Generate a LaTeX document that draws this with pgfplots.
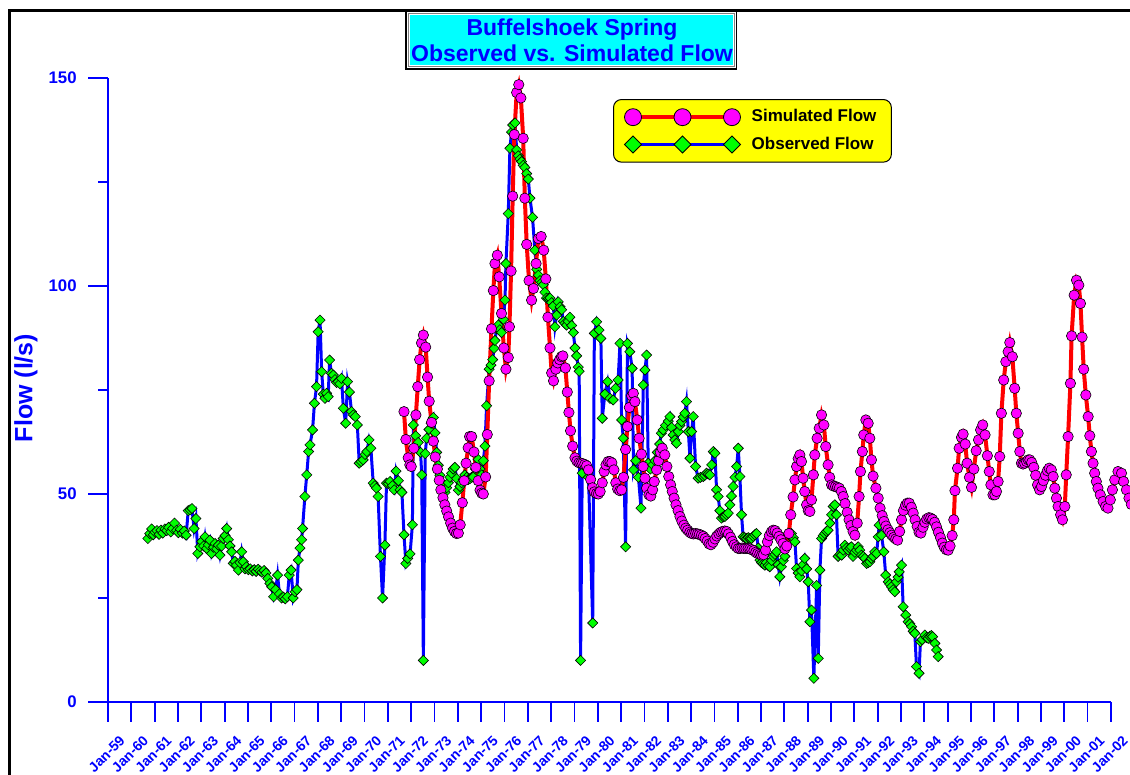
\documentclass[border=0pt]{standalone}
\usepackage{fontspec}
\setmainfont{Liberation Sans}
\usepackage{pgfplots}
\pgfplotsset{compat=1.18}
\usepackage{pgfplotstable}
\definecolor{cMag}{RGB}{255,0,255}
\definecolor{cCyan}{RGB}{0,255,255}
\definecolor{cYel}{RGB}{255,255,0}
\definecolor{cGrn}{RGB}{0,255,0}
\definecolor{cBlue}{RGB}{0,0,255}
\definecolor{cRed}{RGB}{255,0,0}

\pgfplotstableread{
x y
1960.71 39.3
1960.79 40.5
1960.87 41.6
1960.94 40.2
1961.02 40.8
1961.10 41.2
1961.19 40.3
1961.27 41.3
1961.35 40.6
1961.44 41.6
1961.52 41.2
1961.60 42.0
1961.69 40.9
1961.77 41.7
1961.85 43.0
1961.94 41.3
1962.02 40.7
1962.10 41.5
1962.19 40.6
1962.27 41.1
1962.35 40.1
1962.44 46.0
1962.52 46.2
1962.60 46.5
1962.69 41.7
1962.77 44.1
1962.85 35.7
1962.94 37.3
1963.02 38.6
1963.10 37.5
1963.16 39.7
1963.23 36.9
1963.30 37.8
1963.37 38.9
1963.44 35.7
1963.52 37.2
1963.59 38.1
1963.66 36.8
1963.73 37.7
1963.80 35.3
1963.87 37.5
1963.94 39.3
1964.02 40.0
1964.09 41.7
1964.16 39.0
1964.23 37.5
1964.30 36.1
1964.37 33.3
1964.44 33.8
1964.51 32.9
1964.59 31.7
1964.66 33.5
1964.73 36.1
1964.80 33.7
1964.87 32.0
1964.94 32.5
1965.02 31.8
1965.10 32.0
1965.19 31.5
1965.27 31.8
1965.35 31.4
1965.44 31.9
1965.52 31.5
1965.60 31.2
1965.69 31.6
1965.77 31.0
1965.85 29.7
1965.94 28.5
1966.02 27.7
1966.10 25.3
1966.19 27.0
1966.27 30.5
1966.35 26.0
1966.44 25.0
1966.52 25.2
1966.60 24.8
1966.69 25.3
1966.77 30.5
1966.85 31.7
1966.94 25.0
1967.02 26.5
1967.10 27.0
1967.16 34.1
1967.23 37.0
1967.30 39.0
1967.34 41.7
1967.44 49.4
1967.52 54.6
1967.60 60.2
1967.66 61.8
1967.77 65.4
1967.85 71.8
1967.94 75.8
1968.01 89.0
1968.09 91.8
1968.16 79.4
1968.23 74.0
1968.30 73.0
1968.37 74.2
1968.44 73.4
1968.50 82.2
1968.58 79.0
1968.66 78.6
1968.73 77.5
1968.80 76.8
1968.87 77.0
1968.94 76.5
1969.01 77.8
1969.09 70.6
1969.19 67.0
1969.27 77.0
1969.35 74.5
1969.44 69.8
1969.52 69.0
1969.60 68.6
1969.69 66.6
1969.77 57.4
1969.85 57.8
1969.94 58.2
1970.02 59.5
1970.10 60.2
1970.19 63.0
1970.27 61.0
1970.37 52.6
1970.44 52.0
1970.51 51.4
1970.58 49.4
1970.68 35.0
1970.77 25.0
1970.87 37.7
1970.94 52.6
1971.02 52.5
1971.09 53.0
1971.19 52.0
1971.27 51.0
1971.35 55.5
1971.45 53.2
1971.52 51.0
1971.60 50.4
1971.69 40.2
1971.77 33.3
1971.85 34.5
1971.95 35.6
1972.05 42.6
1972.09 66.6
1972.19 64.0
1972.30 62.4
1972.40 60.0
1972.45 54.6
1972.52 10.0
1972.60 59.7
1972.66 63.4
1972.76 65.5
1972.85 67.0
1972.95 68.4
1973.02 64.7
1973.09 60.0
1973.16 56.9
1973.23 54.5
1973.30 52.7
1973.38 51.5
1973.45 50.4
1973.52 51.5
1973.59 52.7
1973.66 54.0
1973.73 55.0
1973.80 56.0
1973.87 56.4
1973.95 53.7
1974.02 50.9
1974.09 51.8
1974.16 52.7
1974.23 53.5
1974.30 54.6
1974.38 54.0
1974.45 53.5
1974.52 53.7
1974.59 54.0
1974.66 54.1
1974.75 56.0
1974.87 58.3
1974.95 56.0
1975.02 54.6
1975.09 58.0
1975.16 61.5
1975.23 71.2
1975.34 80.0
1975.42 81.0
1975.49 82.3
1975.55 85.0
1975.59 86.9
1975.66 89.7
1975.73 90.6
1975.80 89.5
1975.87 88.8
1975.95 92.0
1976.02 96.6
1976.06 105.4
1976.16 117.4
1976.23 133.1
1976.30 137.0
1976.35 138.7
1976.45 139.2
1976.52 132.7
1976.59 131.3
1976.66 130.5
1976.73 129.9
1976.80 129.0
1976.87 128.5
1976.95 127.0
1977.02 125.7
1977.09 121.1
1977.20 116.5
1977.30 108.6
1977.38 104.0
1977.45 102.6
1977.52 101.3
1977.59 100.8
1977.66 100.3
1977.73 98.5
1977.80 97.1
1977.88 97.0
1977.95 97.1
1978.02 96.0
1978.09 95.2
1978.16 90.2
1978.23 93.0
1978.30 96.2
1978.38 95.0
1978.45 94.3
1978.52 91.5
1978.59 91.0
1978.66 90.6
1978.73 91.5
1978.80 92.5
1978.88 90.5
1978.95 88.8
1979.02 85.1
1979.09 83.2
1979.16 80.5
1979.20 79.5
1979.26 10.0
1979.33 55.0
1979.45 56.5
1979.60 54.0
1979.78 19.0
1979.85 88.6
1979.95 91.4
1980.05 89.4
1980.13 87.4
1980.19 68.2
1980.30 74.0
1980.42 77.0
1980.52 73.0
1980.66 72.6
1980.76 75.4
1980.87 77.4
1980.95 86.2
1981.02 67.8
1981.09 63.4
1981.19 37.3
1981.27 86.2
1981.37 84.2
1981.47 80.2
1981.53 55.8
1981.62 58.0
1981.74 54.0
1981.85 46.6
1981.95 76.2
1982.02 79.8
1982.09 83.4
1982.16 57.4
1982.25 56.0
1982.35 57.0
1982.45 58.0
1982.55 60.0
1982.65 62.0
1982.72 64.6
1982.80 65.4
1982.90 66.5
1983.02 67.5
1983.09 68.6
1983.16 66.0
1983.23 64.2
1983.30 63.0
1983.37 62.2
1983.45 65.0
1983.52 66.5
1983.59 67.4
1983.66 68.5
1983.73 69.4
1983.80 72.2
1983.88 65.0
1983.95 58.6
1984.02 65.0
1984.09 68.6
1984.19 56.6
1984.30 53.8
1984.40 54.0
1984.52 54.2
1984.59 54.5
1984.66 55.0
1984.73 54.8
1984.80 54.6
1984.88 57.0
1984.95 60.2
1985.02 59.8
1985.09 51.0
1985.16 49.4
1985.23 46.0
1985.30 44.2
1985.38 44.5
1985.45 44.6
1985.52 45.0
1985.59 45.4
1985.66 47.4
1985.73 49.5
1985.80 51.8
1985.88 54.0
1985.95 56.6
1986.02 61.0
1986.09 54.2
1986.16 45.0
1986.23 39.7
1986.30 39.5
1986.38 39.3
1986.45 39.5
1986.52 39.3
1986.59 39.3
1986.66 39.8
1986.73 40.2
1986.80 40.5
1986.88 37.0
1986.95 34.1
1987.02 33.5
1987.09 33.2
1987.16 32.9
1987.23 33.5
1987.30 32.8
1987.37 32.5
1987.45 34.0
1987.52 35.0
1987.59 35.5
1987.66 36.1
1987.73 33.0
1987.80 30.1
1987.87 32.5
1987.95 34.0
1988.02 35.0
1988.09 37.5
1988.16 40.5
1988.23 40.0
1988.30 40.5
1988.38 39.5
1988.45 38.5
1988.52 32.1
1988.59 31.0
1988.66 30.1
1988.73 31.5
1988.80 33.0
1988.87 34.5
1988.95 32.0
1989.02 28.9
1989.09 19.3
1989.16 22.1
1989.26 5.7
1989.38 28.0
1989.45 10.5
1989.52 31.7
1989.59 39.3
1989.66 40.0
1989.73 40.5
1989.80 41.0
1989.87 41.3
1989.95 43.0
1990.02 45.0
1990.09 47.0
1990.16 47.4
1990.23 45.0
1990.30 35.0
1990.38 35.5
1990.45 35.3
1990.52 36.5
1990.59 37.7
1990.66 37.0
1990.73 36.5
1990.80 37.0
1990.87 37.3
1990.94 35.0
1991.02 36.0
1991.09 36.5
1991.16 37.3
1991.23 36.5
1991.30 35.3
1991.38 35.0
1991.45 34.5
1991.52 33.3
1991.59 33.5
1991.66 33.7
1991.73 34.5
1991.80 35.0
1991.87 36.1
1991.95 35.7
1992.02 39.7
1992.06 42.5
1992.16 40.1
1992.26 36.1
1992.34 30.5
1992.45 28.9
1992.52 28.3
1992.59 27.7
1992.66 27.0
1992.73 26.5
1992.80 28.9
1992.87 30.0
1992.92 31.3
1993.02 32.9
1993.09 22.9
1993.20 20.9
1993.30 19.3
1993.38 18.8
1993.45 18.1
1993.52 17.0
1993.59 16.5
1993.66 8.5
1993.77 6.9
1993.83 14.5
1993.90 15.0
1994.02 16.1
1994.09 15.5
1994.16 15.3
1994.23 15.8
1994.30 16.0
1994.35 15.7
1994.45 14.1
1994.52 12.5
1994.59 10.9
}\obs

\pgfplotstableread{
x y
1971.69 69.8
1971.77 63.1
1971.87 58.7
1971.94 57.0
1972.00 56.6
1972.11 61.0
1972.20 69.0
1972.28 75.8
1972.36 82.3
1972.44 86.3
1972.52 88.2
1972.62 85.3
1972.70 78.1
1972.77 72.3
1972.87 67.2
1972.95 62.7
1973.03 58.9
1973.12 56.0
1973.20 53.3
1973.27 51.0
1973.36 49.1
1973.44 47.4
1973.52 45.9
1973.60 44.5
1973.69 43.0
1973.77 41.8
1973.85 41.0
1973.94 40.5
1974.02 40.6
1974.10 42.6
1974.19 47.9
1974.27 53.2
1974.35 57.4
1974.44 61.1
1974.50 63.8
1974.59 63.8
1974.69 60.1
1974.77 56.4
1974.87 53.2
1974.95 50.9
1975.02 50.2
1975.09 50.0
1975.19 54.1
1975.26 64.3
1975.34 77.2
1975.44 89.7
1975.52 98.9
1975.59 105.4
1975.69 107.4
1975.77 102.2
1975.87 93.4
1975.97 85.1
1976.06 80.0
1976.16 82.8
1976.21 90.2
1976.28 103.6
1976.35 121.6
1976.42 136.4
1976.52 146.5
1976.61 148.4
1976.70 145.2
1976.80 135.5
1976.87 121.1
1976.95 110.0
1977.05 101.3
1977.16 96.6
1977.24 99.4
1977.35 105.4
1977.45 111.4
1977.57 111.9
1977.68 108.6
1977.77 101.7
1977.86 92.5
1977.95 85.1
1978.02 79.1
1978.10 77.2
1978.20 80.0
1978.28 81.5
1978.36 82.3
1978.44 83.0
1978.50 83.2
1978.61 80.3
1978.69 74.5
1978.76 69.6
1978.83 65.2
1978.92 61.5
1979.02 58.7
1979.10 57.9
1979.19 57.5
1979.27 57.4
1979.35 57.3
1979.44 57.1
1979.52 56.8
1979.60 55.8
1979.69 53.5
1979.77 51.5
1979.85 50.5
1979.94 50.1
1980.02 50.0
1980.10 50.6
1980.19 52.7
1980.27 55.4
1980.35 57.0
1980.44 57.8
1980.52 57.8
1980.60 57.5
1980.69 55.8
1980.77 52.7
1980.85 51.2
1980.94 50.8
1981.02 51.0
1981.10 54.0
1981.19 60.7
1981.27 66.2
1981.35 70.8
1981.45 73.6
1981.52 74.2
1981.59 72.2
1981.69 67.8
1981.77 63.4
1981.87 59.6
1981.94 56.6
1982.02 53.8
1982.09 51.4
1982.19 49.8
1982.27 49.5
1982.35 51.0
1982.42 53.0
1982.52 55.8
1982.60 58.0
1982.68 60.0
1982.76 61.0
1982.87 59.4
1982.96 56.6
1983.04 54.2
1983.12 52.2
1983.19 50.6
1983.27 49.0
1983.35 47.4
1983.44 46.0
1983.52 44.6
1983.60 43.5
1983.69 42.5
1983.77 41.8
1983.85 41.3
1983.94 40.8
1984.02 40.5
1984.10 40.4
1984.19 40.5
1984.27 40.4
1984.35 40.3
1984.44 40.1
1984.52 39.8
1984.60 39.3
1984.69 38.7
1984.77 38.0
1984.85 37.8
1984.94 38.4
1985.02 39.2
1985.10 39.9
1985.19 40.4
1985.27 40.8
1985.35 41.0
1985.44 41.1
1985.52 41.0
1985.60 40.4
1985.69 39.6
1985.77 38.6
1985.85 37.8
1985.94 37.3
1986.02 36.9
1986.10 36.9
1986.19 37.0
1986.27 36.9
1986.35 36.9
1986.44 36.9
1986.52 36.8
1986.60 36.6
1986.69 36.4
1986.77 36.0
1986.85 35.7
1986.94 35.5
1987.02 35.3
1987.10 35.4
1987.19 36.5
1987.27 38.5
1987.35 40.0
1987.44 40.9
1987.52 41.3
1987.60 41.2
1987.69 40.6
1987.77 39.8
1987.85 39.0
1987.94 38.1
1988.02 36.8
1988.10 37.5
1988.19 40.5
1988.27 45.0
1988.37 49.3
1988.45 53.4
1988.52 56.6
1988.59 58.5
1988.66 59.4
1988.73 57.8
1988.80 53.8
1988.87 50.6
1988.95 47.4
1989.02 46.0
1989.09 45.8
1989.16 48.6
1989.24 54.6
1989.30 59.4
1989.40 63.4
1989.49 65.8
1989.59 69.0
1989.69 66.6
1989.77 61.4
1989.87 57.0
1989.94 54.0
1990.02 52.2
1990.10 51.9
1990.19 51.8
1990.27 51.6
1990.35 51.4
1990.44 50.6
1990.52 49.4
1990.60 47.7
1990.69 45.6
1990.77 43.8
1990.85 42.4
1990.94 41.0
1991.02 40.1
1991.12 43.0
1991.20 49.4
1991.26 55.4
1991.34 60.2
1991.40 64.2
1991.49 67.8
1991.59 67.0
1991.66 63.4
1991.73 58.2
1991.80 54.3
1991.92 51.4
1992.02 49.0
1992.10 46.6
1992.19 44.8
1992.27 43.4
1992.35 42.3
1992.44 41.4
1992.52 40.7
1992.60 40.1
1992.69 39.6
1992.77 39.2
1992.85 38.9
1992.94 41.0
1993.02 43.8
1993.10 46.0
1993.19 47.3
1993.27 47.8
1993.35 47.8
1993.44 46.8
1993.52 45.4
1993.60 43.8
1993.69 42.2
1993.77 40.8
1993.85 40.6
1993.94 42.0
1994.02 43.2
1994.10 44.0
1994.19 44.3
1994.27 44.2
1994.35 43.9
1994.44 43.2
1994.52 42.1
1994.60 40.8
1994.69 39.5
1994.77 38.2
1994.85 37.2
1994.94 36.6
1995.02 36.5
1995.10 37.5
1995.19 40.0
1995.26 43.8
1995.31 50.8
1995.42 56.2
1995.49 61.0
1995.59 63.6
1995.66 64.4
1995.75 62.0
1995.83 57.4
1995.93 54.0
1996.02 51.6
1996.12 56.0
1996.22 60.4
1996.32 63.0
1996.41 65.4
1996.50 66.6
1996.60 64.2
1996.70 59.2
1996.78 55.4
1996.85 52.2
1996.94 49.8
1997.02 49.8
1997.09 50.6
1997.16 53.0
1997.23 59.0
1997.30 69.4
1997.40 77.4
1997.49 81.8
1997.59 84.2
1997.66 86.4
1997.77 83.0
1997.87 75.4
1997.94 69.4
1998.02 64.6
1998.09 60.2
1998.16 57.4
1998.23 57.2
1998.30 57.4
1998.38 57.8
1998.45 58.2
1998.52 58.2
1998.60 57.6
1998.69 56.4
1998.77 54.5
1998.85 52.2
1998.94 51.0
1999.02 51.8
1999.10 53.2
1999.19 54.5
1999.27 55.6
1999.35 56.2
1999.44 55.8
1999.52 54.2
1999.59 51.4
1999.66 49.0
1999.73 47.0
1999.84 45.0
1999.92 43.8
2000.02 47.0
2000.08 54.6
2000.16 63.8
2000.26 76.6
2000.31 88.0
2000.42 97.8
2000.52 101.4
2000.62 100.2
2000.69 95.8
2000.76 87.7
2000.83 80.0
2000.92 73.8
2001.02 68.6
2001.09 64.0
2001.16 60.2
2001.23 57.4
2001.30 55.0
2001.37 53.0
2001.44 51.4
2001.54 49.8
2001.66 48.2
2001.77 47.0
2001.87 46.6
2001.97 48.6
2002.06 51.0
2002.16 53.4
2002.30 55.4
2002.45 55.0
2002.54 53.0
2002.66 51.0
2002.77 49.0
2002.87 47.5
}\sim

\tikzset{
  xlab/.style={xshift=7.3pt, yshift=-18pt, rotate=45, anchor=east, inner sep=0pt,
    font=\fontsize{7}{8}\selectfont\bfseries, text=cBlue},
  ylab/.style={xshift=-15.5pt, anchor=east, inner sep=0pt,
    font=\fontsize{8.4}{10}\selectfont\bfseries, text=cBlue},
}

\begin{document}
\begin{tikzpicture}
\path[use as bounding box] (0pt,0pt) rectangle (565pt,387.5pt);
% title box
\draw[black, line width=0.6pt, fill=white] (203pt,353pt) rectangle (368.25pt,382.25pt);
\draw[gray, line width=0.4pt] (204.3pt,354.3pt) rectangle (367pt,381pt);
\fill[cCyan] (205pt,355pt) rectangle (366.5pt,380pt);
\node[anchor=base, font=\fontsize{11.5}{13}\selectfont\bfseries, text=cBlue] at (286pt,369.6pt) {Buffelshoek Spring};
\node[anchor=base, font=\fontsize{11.5}{13}\selectfont\bfseries, text=cBlue] at (286pt,356.6pt) {Observed vs. Simulated Flow};
% outer frame
\draw[black, line width=1.15pt] (4.75pt,-20pt) -- (4.75pt,382.25pt) -- (600pt,382.25pt);
% y label
\node[rotate=90, font=\fontsize{12.5}{14}\selectfont\bfseries, text=cBlue] at (13pt,193.5pt) {Flow (l/s)};
\begin{axis}[
  at={(54pt,36.5pt)}, anchor=south west, scale only axis,
  width=501.5pt, height=312pt,
  xmin=1959, xmax=2002, ymin=0, ymax=150,
  clip=false,
  axis x line*=bottom, axis y line*=left,
  axis line style={-, cBlue, line width=1pt},
  xtick={1959,...,2002}, xticklabels={},
  ytick={0,50,100,150}, yticklabels={},
  minor x tick num=1, minor y tick num=1,
  tick align=outside, major tick length=10pt, minor tick length=5pt,
  every tick/.style={cBlue, line width=0.9pt},
  legend style={at={(0.5035,0.9663)}, anchor=north west, fill=cYel, draw=black,
    line width=0.5pt, rounded corners=4pt, inner xsep=5.5pt, inner ysep=3pt, row sep=2pt,
    font=\fontsize{8.5}{10}\selectfont\bfseries, text=black, cells={anchor=west},
    /tikz/every odd column/.append style={column sep=3.6pt}},
  legend image code/.code={\draw[sharp corners, mark repeat=1, #1] plot coordinates {(0pt,0pt) (24.75pt,0pt) (49.5pt,0pt)};},
]
\addplot[forget plot, cBlue, line width=1.5pt, mark=square*, mark size=1.8pt,
  mark options={rotate=45, fill=cGrn, draw=black, line width=0.3pt, solid}] table {\obs};
\addplot[forget plot, cRed, line width=2pt, mark=*, mark size=2.6pt,
  mark options={fill=cMag, draw=black, line width=0.3pt, solid}] table {\sim};
\addlegendimage{cRed, line width=2pt, mark=*, mark size=4.25pt, mark options={fill=cMag, draw=black, line width=0.4pt, solid}}
\addlegendentry{Simulated Flow}
\addlegendimage{cBlue, line width=1.5pt, mark=square*, mark size=3pt, mark options={rotate=45, fill=cGrn, draw=black, line width=0.4pt, solid}}
\addlegendentry{Observed Flow}
\pgfplotsinvokeforeach{59,60,...,99}{\node[xlab] at (axis cs:19#1,0) {Jan-#1};}
\pgfplotsinvokeforeach{00,01,02}{\node[xlab] at (axis cs:20#1,0) {Jan-#1};}
\pgfplotsinvokeforeach{0,50,100,150}{\node[ylab] at (axis cs:1959,#1) {#1};}
\end{axis}
\end{tikzpicture}
\end{document}
